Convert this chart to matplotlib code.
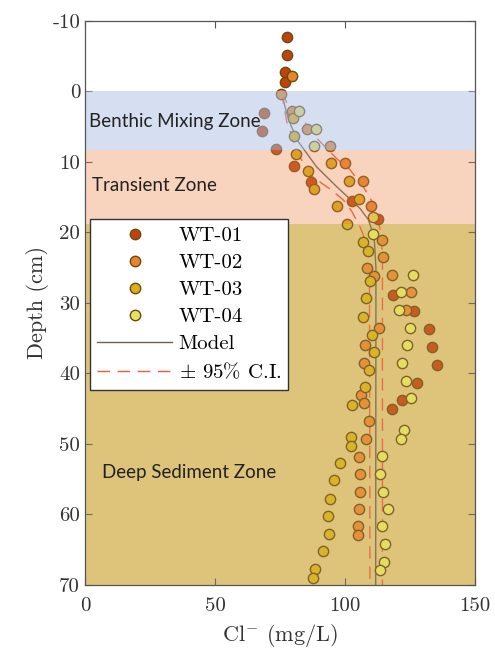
import matplotlib
matplotlib.use('Agg')
import matplotlib.pyplot as plt
from matplotlib.lines import Line2D

plt.rcParams['font.family'] = 'cmr10'
plt.rcParams['mathtext.fontset'] = 'cm'
plt.rcParams['axes.unicode_minus'] = False
plt.rcParams['axes.formatter.use_mathtext'] = False

# Cl- (mg/L) vs depth (cm) for each core
wt01_cl = [77.8, 77.8, 77.0, 77.0, 68.8, 68.2, 73.3, 80.4, 86.9, 102.6, 112.6,
           118.3, 126.5, 132.4, 133.5, 135.5, 127.8, 121.8, 118.0]
wt01_z = [-7.7, -5.2, -2.7, -1.4, 3.0, 5.6, 8.1, 10.5, 12.9, 15.5, 18.1,
          28.8, 31.2, 33.7, 36.3, 38.8, 41.3, 43.8, 45.0]

wt02_cl = [79.6, 75.3, 79.5, 85.5, 94.2, 100.0, 106.8, 109.9, 114.4, 114.5, 108.3,
           111.2, 118.0, 125.4, 123.5, 113.2, 107.7, 107.4, 106.0, 107.3, 109.2,
           108.0, 105.5, 105.8, 105.8, 105.4, 105.1, 105.1]
wt02_z = [-2.2, 0.35, 2.7, 5.3, 7.7, 10.2, 12.7, 16.3, 21.0, 23.5, 25.0,
          26.2, 26.0, 28.5, 31.0, 33.5, 36.0, 38.5, 43.0, 44.2, 46.8,
          49.3, 51.8, 54.3, 56.8, 59.2, 61.6, 62.9]

wt03_cl = [80.1, 80.4, 81.2, 94.5, 85.6, 88.2, 101.7, 105.5, 97.1, 100.9, 107.0,
           109.0, 109.6, 108.1, 107.0, 110.5, 111.2, 109.2, 107.7, 102.6, 102.2,
           102.3, 98.1, 95.9, 94.2, 93.3, 93.8, 91.7, 88.5, 87.8]
wt03_z = [3.7, 6.3, 8.8, 10.2, 11.3, 13.8, 12.7, 15.2, 16.3, 18.8, 21.4,
          22.6, 26.9, 29.3, 32.0, 34.5, 37.0, 39.5, 41.9, 44.5, 49.0,
          50.3, 52.7, 55.1, 57.8, 60.2, 62.7, 65.2, 67.7, 69.0]

wt04_cl = [82.3, 88.7, 88.1, 110.6, 110.6, 126.0, 121.4, 120.9, 125.0, 124.0, 121.8,
           123.5, 125.4, 122.7, 121.4, 114.1, 113.5, 114.7, 116.4, 114.4, 115.4,
           115.1, 113.5]
wt04_z = [2.7, 5.3, 7.7, 17.8, 20.2, 26.0, 28.5, 31.0, 33.5, 36.0, 38.5,
          41.0, 43.5, 48.0, 49.3, 51.7, 54.3, 56.8, 59.2, 61.7, 64.2,
          66.7, 67.9]

# model and confidence bounds
model_z = [0, 3, 4.3, 7.1, 10.7, 13.5, 16.6, 18.2, 20.6, 25, 70]
model_cl = [75.5, 77.5, 78.6, 82.0, 89.1, 96.8, 105.8, 109.0, 111.2, 111.9, 111.8]
ci_hi_z = [0, 2.6, 3.6, 5.0, 6.6, 8.1, 9.6, 11.0, 13.5, 15.9, 18.2, 20, 23, 70]
ci_hi_cl = [75.5, 79.0, 82.7, 85.9, 89.1, 93.0, 97.0, 101.7, 107.0, 110.9, 112.8, 113.7, 114.4, 114.4]
ci_lo_z = [0, 4.3, 6.2, 8.0, 10.2, 11.8, 13.0, 14.0, 15.4, 17.0, 19.2, 21, 24, 70]
ci_lo_cl = [75.5, 77.6, 79.5, 80.8, 84.0, 86.5, 91.0, 94.9, 99.4, 102.6, 105.8, 107.7, 109.4, 109.6]

zones = ['Benthic Mixing Zone', 'Transient Zone', 'Deep Sediment Zone']
zone_edges = [0, 8.3, 18.8, 70]

series = [('WT-01', wt01_cl, wt01_z, '#c2420c'),
          ('WT-02', wt02_cl, wt02_z, '#e8842a'),
          ('WT-03', wt03_cl, wt03_z, '#d8b014'),
          ('WT-04', wt04_cl, wt04_z, '#e6e25e')]

fig = plt.figure(figsize=(4.95, 6.5), dpi=100)
ax = fig.add_axes([0.1717, 0.1, 0.7879, 0.8677])

# deep zone under the data (plus a light veil on top), upper zones laid over it
ax.axhspan(zone_edges[2], zone_edges[3], color='#dec47a', lw=0, zorder=0)
ax.axhspan(zone_edges[2], zone_edges[3], color='#dec47a', alpha=0.2, lw=0, zorder=4)
ax.axhspan(zone_edges[0], zone_edges[1], color='#adc1e5', alpha=0.5, lw=0, zorder=4)
ax.axhspan(zone_edges[1], zone_edges[2], color='#eb8445', alpha=0.35, lw=0, zorder=4)

for name, cl, z, c in series:
    ax.scatter(cl, z, s=55, color=c, edgecolor='#6b4a14', linewidth=1.0, zorder=3)

ax.plot(model_cl, model_z, color='#6e6256', lw=1.0, zorder=2)
ax.plot(ci_lo_cl, ci_lo_z, color='#f0583a', lw=1.0, dashes=(9, 5.5), zorder=2)
ax.plot(ci_hi_cl, ci_hi_z, color='#f0583a', lw=1.0, dashes=(9, 5.5), zorder=2)

zfont = dict(family='Lato', fontsize=13.5, color='#222222', zorder=5)
ax.text(1.5, 4.3, zones[0], va='center', **zfont)
ax.text(2.7, 13.4, zones[1], va='center', **zfont)
ax.text(6.5, 54.0, zones[2], va='center', **zfont)

ax.set_xlim(0, 150)
ax.set_ylim(70, -10)
ax.set_xticks([0, 50, 100, 150])
ax.set_yticks(range(-10, 71, 10))
ax.tick_params(direction='in', top=True, right=True, length=5, width=0.8,
               colors='#555555', labelcolor='#333333', labelsize=15)
ax.tick_params(axis='x', pad=9)
for sp in ax.spines.values():
    sp.set_color('#555555')
    sp.set_linewidth(0.9)
    sp.set_zorder(6)

ax.set_xlabel(r'Cl$^{-}$ (mg/L)', fontsize=16, color='#333333', labelpad=5)
ax.set_ylabel('Depth (cm)', fontsize=16, color='#333333', labelpad=2)

handles = [Line2D([], [], ls='none', marker='o', ms=7.5, color=c,
                  markeredgecolor='#6b4a14', label=name) for name, _, _, c in series]
handles.append(Line2D([], [], color='#6e6256', lw=1.0, label='Model'))
handles.append(Line2D([], [], color='#f0583a', lw=1.0, dashes=(9, 5.5), label=r'$\pm$ 95% C.I.'))
leg = ax.legend(handles=handles, loc='upper left', bbox_to_anchor=(0.013, 0.649),
                borderaxespad=0, fontsize=15, fancybox=False, framealpha=1,
                edgecolor='#333333', handlelength=3.6, handletextpad=0.3,
                labelspacing=0.41, borderpad=0.35)
leg.set_zorder(10)
leg.get_frame().set_linewidth(1.0)

fig.savefig('out.png', dpi=100)
